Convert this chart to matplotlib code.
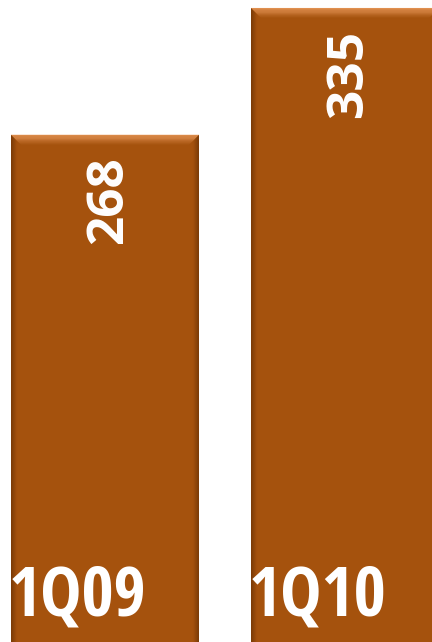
import numpy as np
import matplotlib
matplotlib.use('Agg')
import matplotlib.pyplot as plt
from matplotlib.patches import Polygon
from matplotlib.transforms import IdentityTransform
from matplotlib.colors import to_rgb

# data
quarters = ['1Q09', '1Q10']
values = [268, 335]

bar_color = '#A5520D'
light_color = '#F0A062'
dark_color = '#6A3205'


def mix(c1, c2, t):
    a = np.array(to_rgb(c1))
    b = np.array(to_rgb(c2))
    return tuple(a + (b - a) * t)


fig = plt.figure(figsize=(4.32, 6.42), dpi=100)
ax = fig.add_axes([0, 0, 1, 1])
ax.set_xlim(-0.4375, 1.3625)
ax.set_ylim(0, 339.2)
ax.axis('off')

x = np.arange(len(quarters))
bars = ax.bar(x, values, width=0.783, color=bar_color, zorder=1)

# bevel effect, drawn in pixel space from each bar's extent
bevel = 10
side = 6
n = 12
for r in bars:
    (x0, y0) = ax.transData.transform((r.get_x(), 0))
    (x1, y1) = ax.transData.transform((r.get_x() + r.get_width(), r.get_height()))
    for i in range(n):
        t0 = i * side / n
        t1 = (i + 1) * side / n
        c = mix(dark_color, bar_color, (i + 0.5) / n)
        for pts in ([(x0 + t0, y0), (x0 + t1, y0), (x0 + t1, y1 - t1), (x0 + t0, y1 - t0)],
                    [(x1 - t0, y0), (x1 - t1, y0), (x1 - t1, y1 - t1), (x1 - t0, y1 - t0)]):
            ax.add_patch(Polygon(pts, closed=True, color=c, lw=0,
                                 transform=IdentityTransform(), zorder=2))
    for i in range(n):
        t0 = i * bevel / n
        t1 = (i + 1) * bevel / n
        c = mix(light_color, bar_color, ((i + 0.5) / n) ** 1.1)
        pts = [(x0 + t0, y1 - t0), (x1 - t0, y1 - t0), (x1 - t1, y1 - t1), (x0 + t1, y1 - t1)]
        ax.add_patch(Polygon(pts, closed=True, color=c, lw=0,
                             transform=IdentityTransform(), zorder=3))

# values, rotated, near the top of each bar
for r, v in zip(bars, values):
    ax.annotate(str(v), xy=(r.get_x() + r.get_width() / 2, r.get_height()),
                xytext=(2.9, -15.8), textcoords='offset points',
                rotation=90, ha='center', va='top',
                fontsize=37, fontweight='bold', color='white',
                family=['Open Sans', 'DejaVu Sans'], zorder=5)

# quarter labels at the foot of each bar
for r, q in zip(bars, quarters):
    ax.annotate(q, xy=(r.get_x(), 0), xytext=(-2, 19), textcoords='offset points',
                ha='left', va='baseline',
                fontsize=50, fontweight='bold', color='white',
                family=['Open Sans Condensed', 'Open Sans'], zorder=5)

fig.savefig('out.png', dpi=100)
